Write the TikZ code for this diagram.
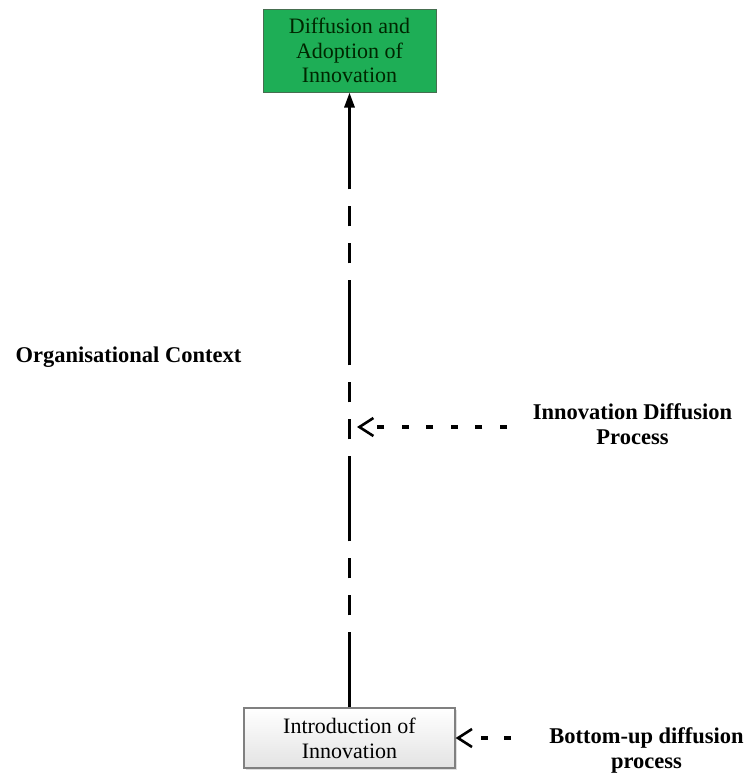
\documentclass[tikz,border=0pt]{standalone}
\usepackage{fontspec}
\setmainfont{Liberation Serif}
\usetikzlibrary{arrows.meta,shadows}
\definecolor{boxgreen}{RGB}{30,174,86}
\definecolor{boxedge}{RGB}{70,110,80}
\begin{document}
\begin{tikzpicture}[x=1pt,y=-1pt,
  topbox/.style={draw=boxedge, line width=1pt, fill=boxgreen, minimum width=173pt, minimum height=83pt,
    align=center, inner sep=0pt, text=black!85!green, font=\fontsize{22}{24.5}\selectfont},
  botbox/.style={draw=gray, line width=1.2pt, top color=white, bottom color=gray!22,
    minimum width=211pt, minimum height=60pt, align=center, inner sep=0pt,
    font=\fontsize{22}{25}\selectfont,
    drop shadow={shadow xshift=1.5pt, shadow yshift=-1.5pt, opacity=0.25}},
  lbl/.style={font=\bfseries\fontsize{22.5}{25}\selectfont, align=center, inner sep=0pt},
  mainline/.style={line width=3pt,
    dash pattern=on 85pt off 17pt on 20pt off 17pt on 20pt off 17pt, dash phase=10pt,
    -{Triangle[length=15pt,width=10pt]}},
  barb/.style={line width=3.2pt, -{Straight Barb[length=14pt,width=18pt,line width=2.6pt]}}
]
\useasboundingbox (0,0) rectangle (750,774);

\node[topbox] (top) at (349.5,50.5) {Diffusion and\\Adoption of\\Innovation};
\node[botbox] (bot) at (349.5,738) {Introduction of\\Innovation};

\node[lbl] (org) at (128.5,357) {Organisational Context};
\node[lbl] (idp) at (632.5,424.5) {Innovation Diffusion\\Process};
\node[lbl] (bup) at (646.5,750) {Bottom-up diffusion\\process};

\draw[mainline] (bot.north) -- (top.south);

\coordinate (m1) at (357,427);
\coordinate (e1) at (507,427);
\draw[barb, dash pattern=on 7pt off 17.6pt on 7pt off 17.6pt on 7pt off 17.6pt on 7pt off 17.6pt on 7pt off 17.6pt on 7pt off 80pt] (e1) -- (m1);

\coordinate (e2) at (511,738);
\draw[barb, dash pattern=on 7pt off 16.5pt on 7pt off 60pt] (e2) -- (bot.east);
\end{tikzpicture}
\end{document}
